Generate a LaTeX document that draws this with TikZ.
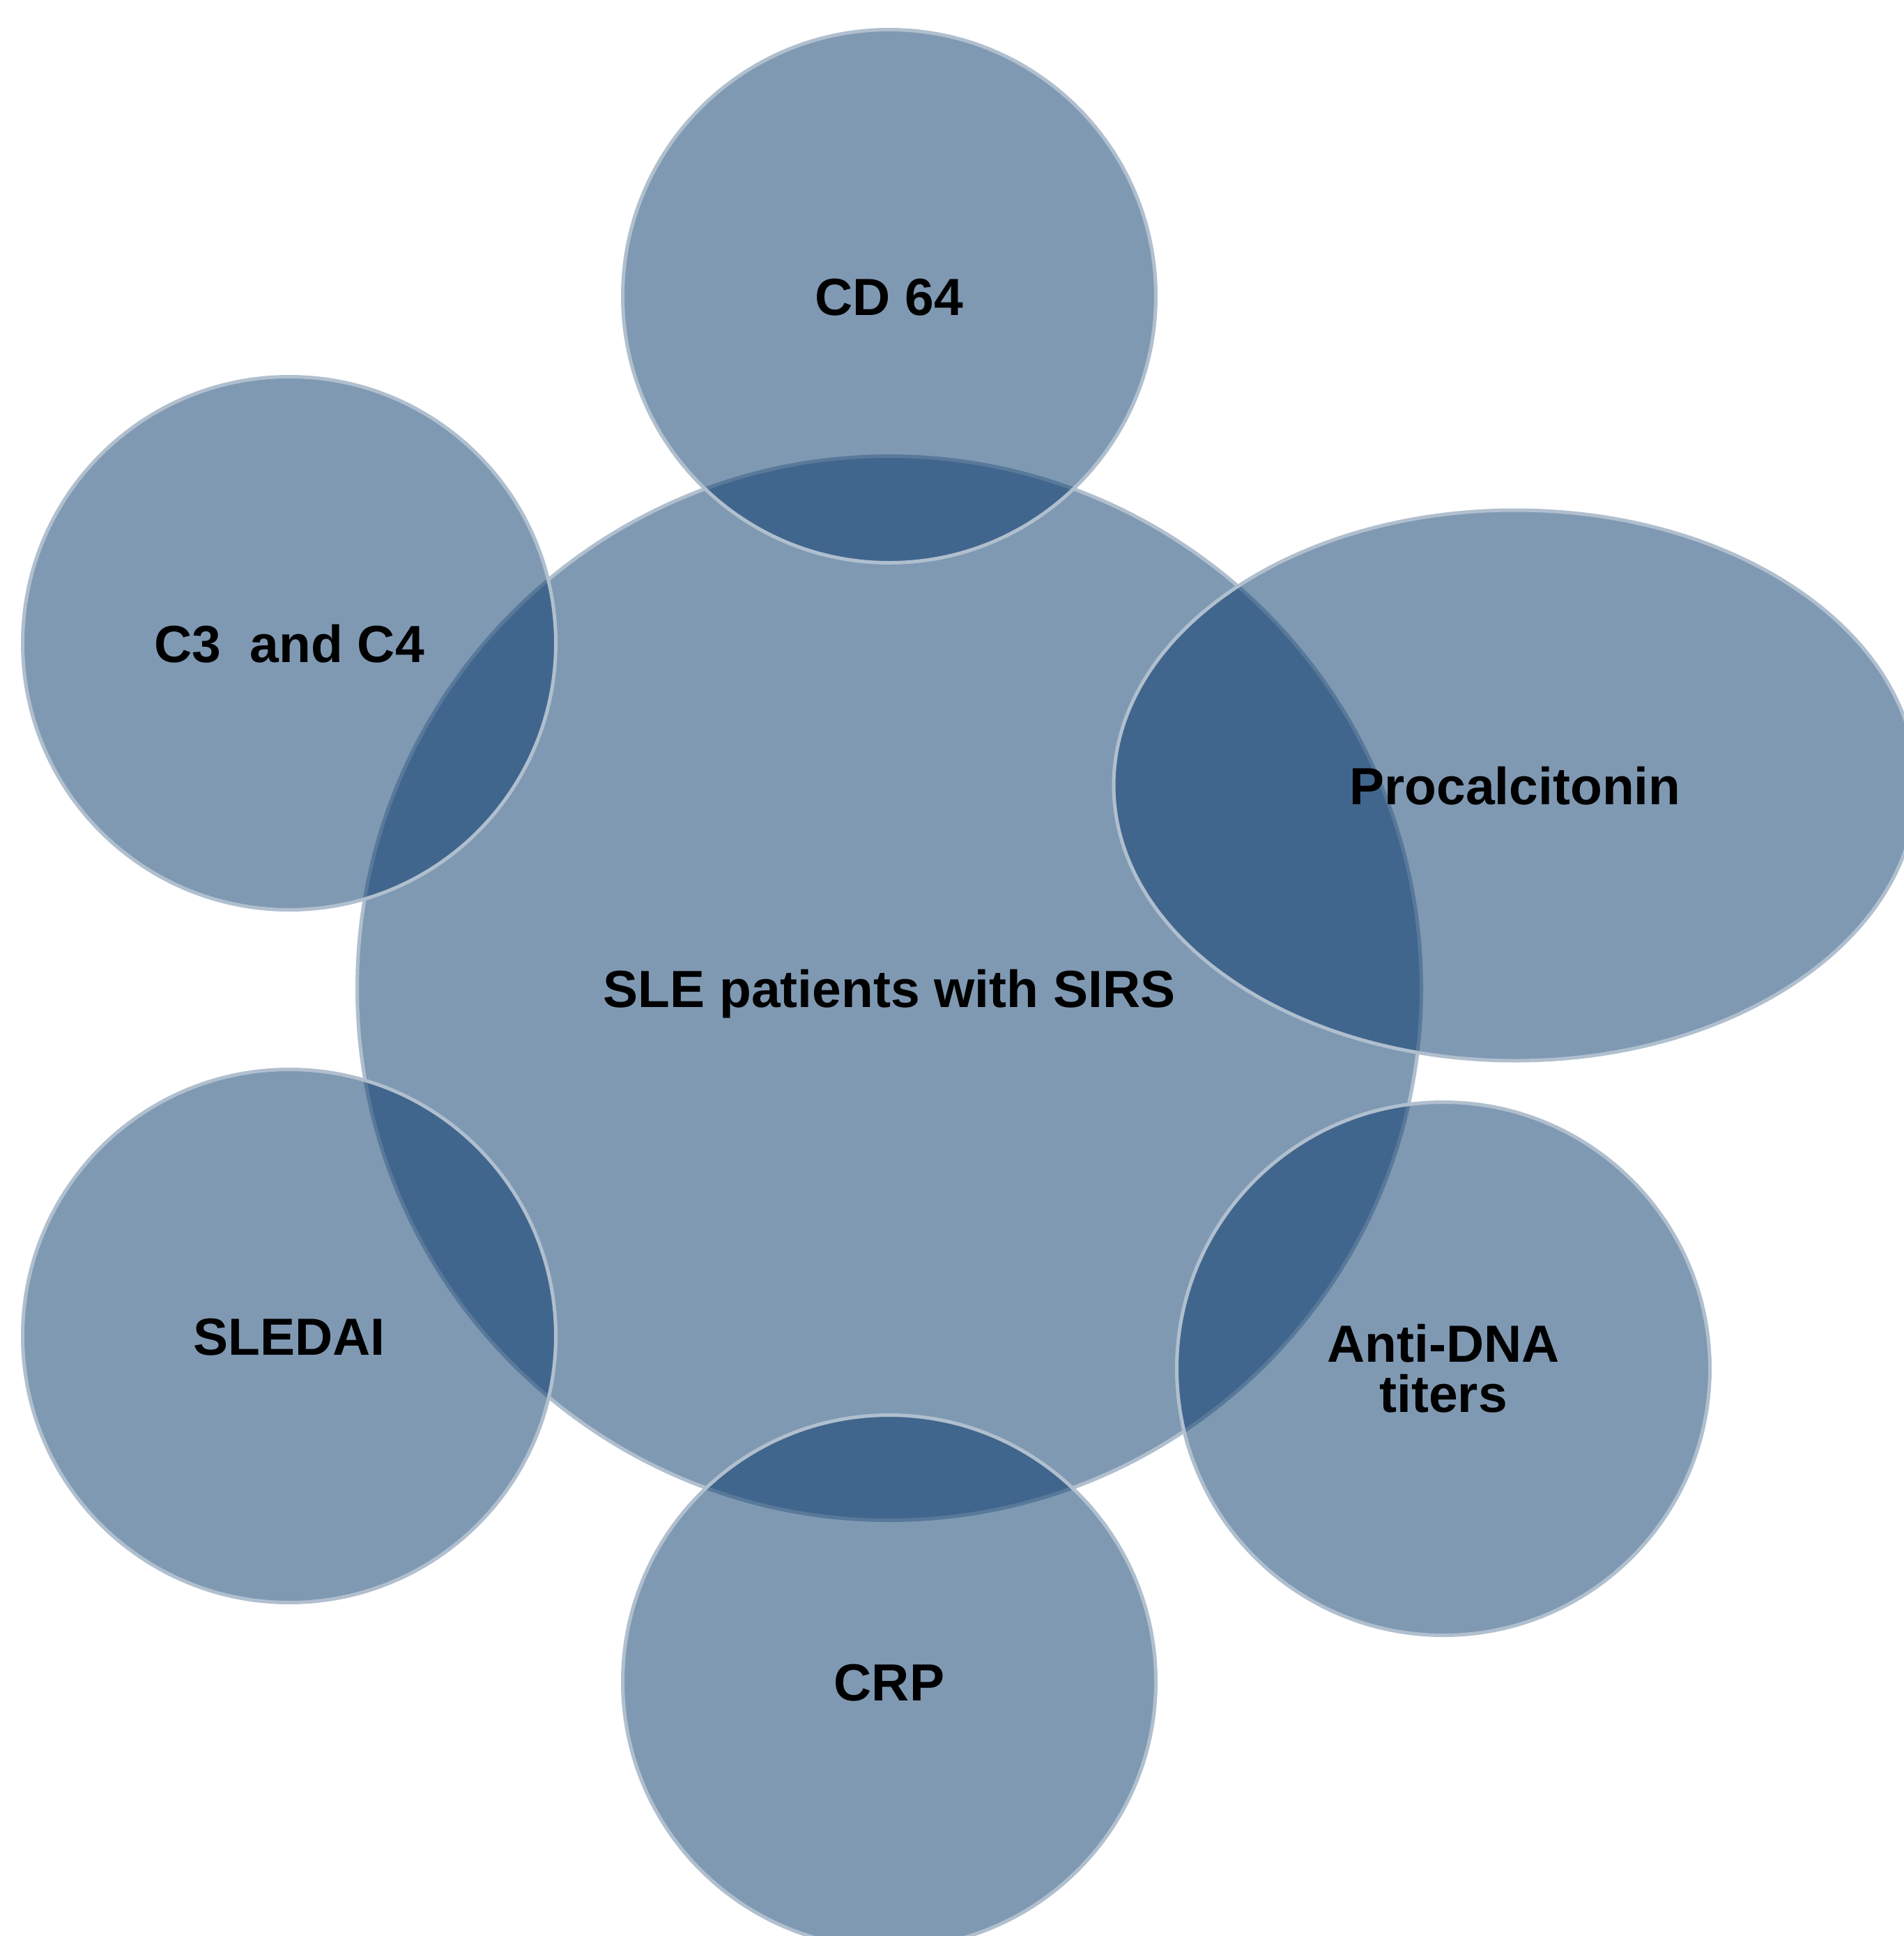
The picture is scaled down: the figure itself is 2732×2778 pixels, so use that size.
\documentclass[tikz,border=0pt]{standalone}
\usepackage{fontspec}
\setmainfont{Liberation Sans}
\usetikzlibrary{shapes.geometric}
\definecolor{bubblefill}{RGB}{3,53,104}
\definecolor{bubbleline}{RGB}{176,191,206}
\tikzset{
  bubble/.style={circle, minimum size=765pt, inner sep=0pt,
    fill=bubblefill, fill opacity=0.5, text opacity=1,
    draw=bubbleline, line width=5pt,
    font=\bfseries\fontsize{75}{72}\selectfont, text=black},
  oneline/.style={text height=54pt, text depth=0pt},
  oval/.style={bubble, ellipse, minimum width=1152pt, minimum height=790pt}
}
\begin{document}
\begin{tikzpicture}[x=1pt, y=-1pt]
  \useasboundingbox (0,0) rectangle (2732,2778);
  \clip (0,0) rectangle (2732,2778);
  \fill[white] (0,0) rectangle (2732,2778);
  % hub
  \node[bubble, oneline, minimum size=1527pt] (sle) at (1276,1418) {SLE patients with SIRS};
  % markers around the hub
  \node[bubble, oneline] (cd) at (1276,425) {CD 64};
  \node[bubble, oneline] (comp) at (415,923) {C3\ \ and C4};
  \node[oval, oneline] (pct) at (2174,1127) {Procalcitonin};
  \node[bubble, align=center] (dna) at (2071,1964) {Anti-DNA\\titers};
  \node[bubble, oneline] (crp) at (1276,2413) {CRP};
  \node[bubble, oneline] (sledai) at (415,1917) {SLEDAI};
\end{tikzpicture}
\end{document}
